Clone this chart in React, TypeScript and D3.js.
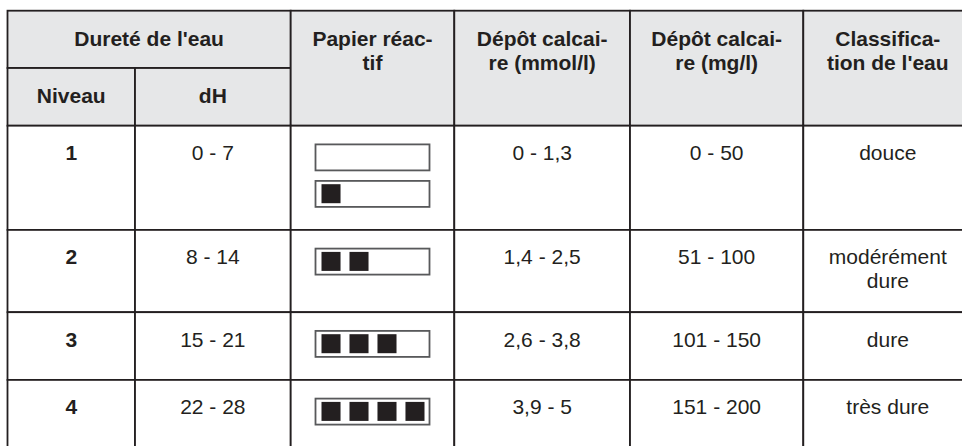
import React from "react";
import * as d3 from "d3";

// table content
const groupHeader = "Dureté de l'eau";
const subHeaders = ["Niveau", "dH"];
const spanHeaders = [
  ["Papier réac-", "tif"],
  ["Dépôt calcai-", "re (mmol/l)"],
  ["Dépôt calcai-", "re (mg/l)"],
  ["Classifica-", "tion de l'eau"],
];
const levels = ["1", "2", "3", "4"];
const dhRanges = ["0 - 7", "8 - 14", "15 - 21", "22 - 28"];
const stripSquares = [[0, 1], [2], [3], [4]];
const mmolRanges = ["0 - 1,3", "1,4 - 2,5", "2,6 - 3,8", "3,9 - 5"];
const mgRanges = ["0 - 50", "51 - 100", "101 - 150", "151 - 200"];
const classes = [["douce"], ["modérément", "dure"], ["dure"], ["très dure"]];

// layout
const W = 962;
const H = 446;
const left = 7.5;
const top = 10.7;
const colWidths = [127.5, 155.7, 163.6, 175.7, 173.3, 169];
const headRowH = [57.3, 57.7];
const font = "'Liberation Sans', Arial, sans-serif";
const fontSize = 21;
const lineH = 24;
const baseOff = 34.3;
const headBaseOff = 35;
const boxW = 114;
const boxH = 26;
const boxTop = 18.7;
const boxGap = 10.5;
const ink = "#231f20";
const headFill = "#e6e7e8";
const boxStroke = "#58595b";
const lineW = 1.8;

const edges = [left, ...d3.cumsum(colWidths).map((d) => left + d)];
const cx = (i: number) => (edges[i] + edges[i + 1]) / 2;

const rows = levels.map((lvl, i) => {
  const texts = [[lvl], [dhRanges[i]], [mmolRanges[i]], [mgRanges[i]], classes[i]];
  const lines = d3.max(texts, (t) => t.length) as number;
  const nBoxes = stripSquares[i].length;
  const textBottom = baseOff + (lines - 1) * lineH + 24;
  const boxBottom = boxTop + nBoxes * boxH + (nBoxes - 1) * boxGap + 23;
  return { texts, h: Math.max(textBottom, boxBottom) };
});

const headBottom = top + headRowH[0] + headRowH[1];
const rowTops = [headBottom, ...d3.cumsum(rows, (r) => r.h).map((d) => headBottom + d)];

const slot = d3.scaleBand<number>().domain([0, 1, 2, 3]).range([6, boxW + 1 - 6]).paddingInner(0.32);

function Cell({ x0, x1, y0, y1, fill }: { x0: number; x1: number; y0: number; y1: number; fill: string }) {
  return <rect x={x0} y={y0} width={x1 - x0} height={y1 - y0} fill={fill} stroke={ink} strokeWidth={lineW} />;
}

function Lines({ x, y, lines, bold }: { x: number; y: number; lines: string[]; bold?: boolean }) {
  return (
    <text x={x} y={y} textAnchor="middle" fontFamily={font} fontSize={fontSize} fontWeight={bold ? "bold" : "normal"} fill={ink}>
      {lines.map((l, k) => (
        <tspan key={k} x={x} y={y + k * lineH}>
          {l}
        </tspan>
      ))}
    </text>
  );
}

export default function App() {
  const y1 = top + headRowH[0];
  return (
    <svg width={W} height={H} style={{ position: "absolute", left: 0, top: 0, background: "#fff" }}>
      {/* header */}
      <Cell x0={edges[0]} x1={edges[2]} y0={top} y1={y1} fill={headFill} />
      <Lines x={(edges[0] + edges[2]) / 2} y={top + headBaseOff} lines={[groupHeader]} bold />
      {subHeaders.map((s, i) => (
        <g key={s}>
          <Cell x0={edges[i]} x1={edges[i + 1]} y0={y1} y1={headBottom} fill={headFill} />
          <Lines x={cx(i)} y={y1 + headBaseOff} lines={[s]} bold />
        </g>
      ))}
      {spanHeaders.map((s, j) => (
        <g key={j}>
          <Cell x0={edges[j + 2]} x1={edges[j + 3]} y0={top} y1={headBottom} fill={headFill} />
          <Lines x={cx(j + 2)} y={top + headBaseOff} lines={s} bold />
        </g>
      ))}
      {/* body */}
      {rows.map((r, i) => {
        const y0 = rowTops[i];
        const cells = [0, 1, 2, 3, 4, 5];
        return (
          <g key={i}>
            {cells.map((c) => (
              <Cell key={c} x0={edges[c]} x1={edges[c + 1]} y0={y0} y1={y0 + r.h} fill="#fff" />
            ))}
            <Lines x={cx(0)} y={y0 + baseOff} lines={r.texts[0]} bold />
            <Lines x={cx(1)} y={y0 + baseOff} lines={r.texts[1]} />
            <Lines x={cx(3)} y={y0 + baseOff} lines={r.texts[2]} />
            <Lines x={cx(4)} y={y0 + baseOff} lines={r.texts[3]} />
            <Lines x={cx(5)} y={y0 + baseOff} lines={r.texts[4]} />
            {stripSquares[i].map((n, b) => {
              const bx = cx(2) - boxW / 2;
              const by = y0 + boxTop + b * (boxH + boxGap);
              return (
                <g key={b}>
                  <rect x={bx} y={by} width={boxW} height={boxH} fill="#fff" stroke={boxStroke} strokeWidth={1.8} />
                  {d3.range(n).map((k) => (
                    <rect key={k} x={bx + (slot(k) as number)} y={by + 3.3} width={slot.bandwidth()} height={19} fill={ink} />
                  ))}
                </g>
              );
            })}
          </g>
        );
      })}
    </svg>
  );
}
